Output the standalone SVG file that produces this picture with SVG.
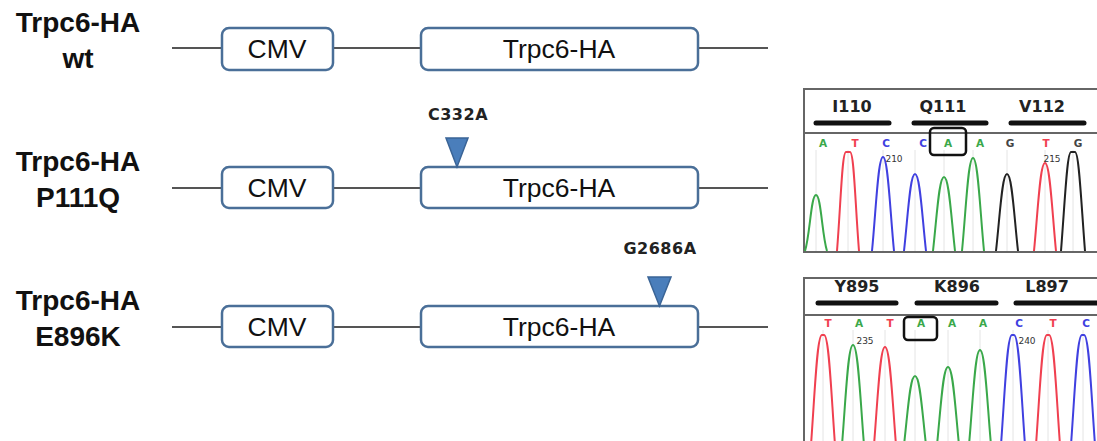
<svg xmlns="http://www.w3.org/2000/svg" width="1097" height="441" viewBox="0 0 1097 441">
<style>
.lbl{font-family:"Liberation Sans",Arial,sans-serif;font-weight:bold;font-size:28px;fill:#111;text-anchor:middle}
.btx{font-family:"Liberation Sans",Arial,sans-serif;font-size:26.5px;fill:#111;text-anchor:middle}
.box{fill:#fff;stroke:#4a6f98;stroke-width:2.5}
.bb{stroke:#555;stroke-width:2}
.tri{fill:#4a7ebb;stroke:#3a6496;stroke-width:1.5}
.mut{font-family:"DejaVu Sans",sans-serif;font-weight:bold;font-size:16px;letter-spacing:0.5px;fill:#222;text-anchor:middle}
.aa{font-family:"DejaVu Sans",sans-serif;font-weight:bold;font-size:16px;fill:#222;text-anchor:middle}
.bar{stroke:#111;stroke-width:5;stroke-linecap:round}
.bs{font-family:"DejaVu Sans",sans-serif;font-weight:bold;font-size:10.5px;text-anchor:middle}
.num{font-family:"DejaVu Sans",sans-serif;font-size:9px;fill:#333;text-anchor:middle}
.pk{fill:none;stroke-width:2}
.g{stroke:#3aa84a}.r{stroke:#f04050}.b{stroke:#4040e0}.k{stroke:#222}
.gf{fill:#3aa84a}.rf{fill:#f04050}.bf{fill:#4040e0}.kf{fill:#444}
.vl{stroke:#e4e4e4;stroke-width:1}
.frame{fill:#fff;stroke:#666;stroke-width:2}
.sel{fill:none;stroke:#111;stroke-width:2.5}
</style>
<g id="row-wt">
<text class="lbl" x="78" y="32">Trpc6-HA</text>
<text class="lbl" x="78" y="68">wt</text>
<line class="bb" x1="172" y1="48" x2="768" y2="48"/>
<rect class="box" x="222" y="28" width="111" height="42" rx="7"/>
<text class="btx" x="277" y="58">CMV</text>
<rect class="box" x="421" y="28" width="277" height="42" rx="7"/>
<text class="btx" x="559" y="58">Trpc6-HA</text>
</g>
<g id="row-p111q">
<text class="lbl" x="78" y="171">Trpc6-HA</text>
<text class="lbl" x="78" y="207">P111Q</text>
<line class="bb" x1="172" y1="188" x2="768" y2="188"/>
<rect class="box" x="222" y="167" width="111" height="41" rx="7"/>
<text class="btx" x="277" y="197">CMV</text>
<rect class="box" x="421" y="167" width="277" height="41" rx="7"/>
<text class="btx" x="559" y="197">Trpc6-HA</text>
<polygon class="tri" points="446,138 468,138 457,167"/>
<text class="mut" x="458" y="120">C332A</text>
</g>
<g id="row-e896k">
<text class="lbl" x="78" y="310">Trpc6-HA</text>
<text class="lbl" x="78" y="346">E896K</text>
<line class="bb" x1="172" y1="327" x2="768" y2="327"/>
<rect class="box" x="222" y="306" width="111" height="41" rx="7"/>
<text class="btx" x="277" y="336">CMV</text>
<rect class="box" x="421" y="306" width="277" height="41" rx="7"/>
<text class="btx" x="559" y="336">Trpc6-HA</text>
<polygon class="tri" points="648,277 671,277 659.5,306"/>
<text class="mut" x="660" y="254">G2686A</text>
</g>
<g id="chromatogram-p111q">
<rect class="frame" x="804" y="89" width="300" height="163"/>
<line x1="804" y1="133" x2="1097" y2="133" stroke="#666" stroke-width="2"/>
<text class="aa" x="852" y="112">I110</text>
<text class="aa" x="943" y="112">Q111</text>
<text class="aa" x="1042" y="112">V112</text>
<line class="bar" x1="816" y1="123" x2="889" y2="123"/>
<line class="bar" x1="914" y1="123" x2="986" y2="123"/>
<line class="bar" x1="1011" y1="123" x2="1084" y2="123"/>
<g class="vl">
<line x1="816" y1="150" x2="816" y2="251"/><line x1="848" y1="150" x2="848" y2="251"/><line x1="883" y1="150" x2="883" y2="251"/><line x1="915" y1="150" x2="915" y2="251"/><line x1="944" y1="150" x2="944" y2="251"/><line x1="973" y1="150" x2="973" y2="251"/><line x1="1007" y1="150" x2="1007" y2="251"/><line x1="1045" y1="150" x2="1045" y2="251"/><line x1="1073" y1="150" x2="1073" y2="251"/>
</g>
<text class="bs gf" x="823" y="147">A</text>
<text class="bs rf" x="855" y="147">T</text>
<text class="bs bf" x="886" y="147">C</text>
<text class="bs bf" x="923" y="147">C</text>
<text class="bs gf" x="948" y="147">A</text>
<text class="bs gf" x="980" y="147">A</text>
<text class="bs kf" x="1010" y="147">G</text>
<text class="bs rf" x="1046" y="147">T</text>
<text class="bs kf" x="1078" y="147">G</text>
<rect class="sel" x="930" y="128" width="36" height="27" rx="4"/>
<text class="num" x="894" y="162">210</text>
<text class="num" x="1052" y="162">215</text>
<path class="pk g" d="M805,251 C810,235 811,195 816,195 C821,195 822,235 827,251"/>
<path class="pk r" d="M837,251 C841,200 842,152 846,152 L850,152 C854,152 855,200 859,251"/>
<path class="pk b" d="M872,251 C876,210 878,157 883,157 C888,157 890,210 894,251"/>
<path class="pk b" d="M904,251 C908,215 910,174 915,174 C920,174 922,215 926,251"/>
<path class="pk g" d="M933,251 C937,215 939,177 944,177 C949,177 951,215 955,251"/>
<path class="pk g" d="M962,251 C966,210 968,158 973,158 C978,158 980,210 984,251"/>
<path class="pk k" d="M996,251 C1000,215 1002,174 1007,174 C1012,174 1014,215 1018,251"/>
<path class="pk r" d="M1034,251 C1038,210 1040,163 1045,163 C1050,163 1052,210 1056,251"/>
<path class="pk k" d="M1061,251 C1065,200 1067,152 1071,152 L1075,152 C1079,152 1081,200 1085,251"/>
</g>
<g id="chromatogram-e896k">
<rect class="frame" x="804" y="278" width="300" height="170"/>
<line x1="804" y1="315" x2="1097" y2="315" stroke="#666" stroke-width="2"/>
<text class="aa" x="857" y="292">Y895</text>
<text class="aa" x="957" y="292">K896</text>
<text class="aa" x="1047" y="292">L897</text>
<line class="bar" x1="818" y1="303" x2="896" y2="303"/>
<line class="bar" x1="917" y1="303" x2="996" y2="303"/>
<line class="bar" x1="1016" y1="303" x2="1097" y2="303"/>
<g class="vl">
<line x1="823" y1="330" x2="823" y2="441"/><line x1="853" y1="330" x2="853" y2="441"/><line x1="885" y1="330" x2="885" y2="441"/><line x1="915" y1="330" x2="915" y2="441"/><line x1="948" y1="330" x2="948" y2="441"/><line x1="980" y1="330" x2="980" y2="441"/><line x1="1013" y1="330" x2="1013" y2="441"/><line x1="1048" y1="330" x2="1048" y2="441"/><line x1="1083" y1="330" x2="1083" y2="441"/>
</g>
<text class="bs rf" x="828" y="327">T</text>
<text class="bs gf" x="859" y="327">A</text>
<text class="bs rf" x="890" y="327">T</text>
<text class="bs gf" x="921" y="327">A</text>
<text class="bs gf" x="952" y="327">A</text>
<text class="bs gf" x="983" y="327">A</text>
<text class="bs bf" x="1019" y="327">C</text>
<text class="bs rf" x="1053" y="327">T</text>
<text class="bs bf" x="1086" y="327">C</text>
<rect class="sel" x="904" y="317" width="33" height="23" rx="4"/>
<text class="num" x="865" y="344">235</text>
<text class="num" x="1027" y="344">240</text>
<path class="pk r" d="M811,445 C815,390 817,335 822,335 L824,335 C829,335 831,390 835,445"/>
<path class="pk g" d="M842,445 C846,395 848,345 853,345 C858,345 860,395 864,445"/>
<path class="pk r" d="M874,445 C878,395 880,347 885,347 C890,347 892,395 896,445"/>
<path class="pk g" d="M904,445 C908,410 910,376 915,376 C920,376 922,410 926,445"/>
<path class="pk g" d="M937,445 C941,405 943,367 948,367 C953,367 955,405 959,445"/>
<path class="pk g" d="M969,445 C973,400 975,350 980,350 C985,350 987,400 991,445"/>
<path class="pk b" d="M1001,445 C1005,390 1007,335 1012,335 L1014,335 C1019,335 1021,390 1025,445"/>
<path class="pk r" d="M1036,445 C1040,390 1042,335 1047,335 L1049,335 C1054,335 1056,390 1060,445"/>
<path class="pk b" d="M1071,445 C1075,390 1077,335 1082,335 L1084,335 C1089,335 1091,390 1095,445"/>
</g>
</svg>
